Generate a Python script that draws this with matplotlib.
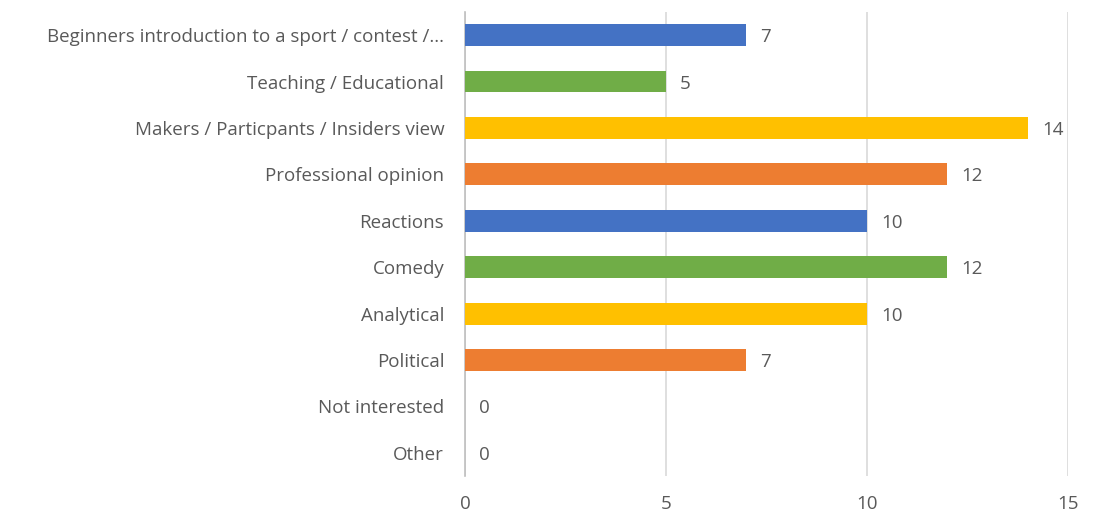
import matplotlib.pyplot as plt
import numpy as np

categories = [
    "Beginners introduction to a sport / contest /...",
    "Teaching / Educational",
    "Makers / Particpants / Insiders view",
    "Professional opinion",
    "Reactions",
    "Comedy",
    "Analytical",
    "Political",
    "Not interested",
    "Other",
]
counts = [7, 5, 14, 12, 10, 12, 10, 7, 0, 0]

palette = ["#4472C4", "#70AD47", "#FFC000", "#ED7D31"]
colors = [palette[i % 4] for i in range(len(categories))]

plt.rcParams['font.family'] = ['Open Sans', 'DejaVu Sans']
text_color = "#595959"

fig = plt.figure(figsize=(10.93, 5.17), dpi=100)
ax = fig.add_axes([0.4254, 0.0793, 0.5517, 0.8975])

y = np.arange(len(categories))
ax.barh(y, counts, height=0.47, color=colors, zorder=3)

for yi, v in zip(y, counts):
    ax.text(v + 0.35, yi, str(v), va="center_baseline", ha="left",
            fontsize=13.5, color=text_color)

ax.set_yticks(y)
ax.set_yticklabels(categories, fontsize=13.5, color=text_color)
ax.set_ylim(len(categories) - 0.5, -0.5)

ax.set_xlim(0, 15)
ax.set_xticks([0, 5, 10, 15])
ax.tick_params(axis="x", labelsize=13.5, colors=text_color, length=0, pad=14)
ax.tick_params(axis="y", length=0, pad=15)
ax.xaxis.grid(True, color="#D9D9D9", linewidth=1.2, zorder=0)

for s in ["top", "right", "bottom"]:
    ax.spines[s].set_visible(False)
ax.spines["left"].set_color("#BFBFBF")
ax.spines["left"].set_linewidth(1.2)

fig.savefig("out.png", dpi=100)
